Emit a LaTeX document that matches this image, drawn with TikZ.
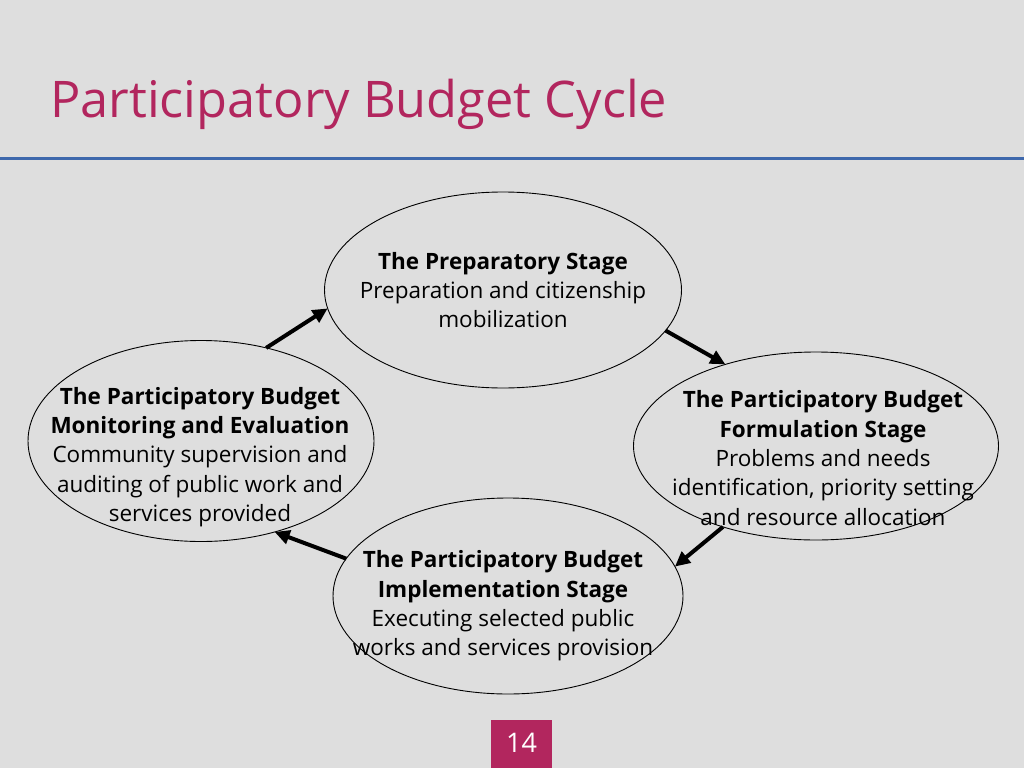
\documentclass[tikz,border=0pt]{standalone}
\usepackage{fontspec}
\setmainfont{Open Sans}[BoldFont={Open Sans Bold}]
\usetikzlibrary{shapes.geometric, arrows.meta}

\definecolor{slidebg}{RGB}{222,222,222}
\definecolor{titlered}{RGB}{178,38,94}
\definecolor{ruleblue}{RGB}{62,104,172}

\tikzset{
  stage/.style={ellipse, draw=black, line width=0.9pt, outer sep=0pt, inner sep=0pt},
  stagetext/.style={align=center, font=\fontsize{22.5}{29.3}\selectfont},
  cycle arrow/.style={line width=4pt, -{Triangle[length=15pt, width=14pt]}}
}

\begin{document}
\begin{tikzpicture}[x=1pt, y=-1pt]
  \useasboundingbox[fill=slidebg] (0, 0) rectangle (1024, 768);

  \node[anchor=base west, text=titlered, font=\fontsize{50.5}{56}\selectfont, inner sep=0pt] (title) at (50, 117) {Participatory Budget Cycle};
  \draw[ruleblue, line width=3pt] (0, 158) -- (1024, 158);

  \node[stage, minimum width=357pt, minimum height=196pt] (prep) at (503, 290) {};
  \node[stage, minimum width=365pt, minimum height=188pt] (form) at (816, 446) {};
  \node[stage, minimum width=350pt, minimum height=196pt] (impl) at (508, 596) {};
  \node[stage, minimum width=346pt, minimum height=201pt] (mon) at (201, 441) {};

  \node[stagetext] (prep text) at (503, 290) {\textbf{The Preparatory Stage}\\Preparation and citizenship\\mobilization};
  \node[stagetext] (form text) at (823, 458) {\textbf{The Participatory Budget}\\\textbf{Formulation Stage}\\Problems and needs\\identification, priority setting\\and resource allocation};
  \node[stagetext] (impl text) at (503, 606) {\textbf{The Participatory Budget}\\\textbf{Implementation Stage}\\Executing selected public\\works and services provision};
  \node[stagetext] (mon text) at (200, 457) {\textbf{The Participatory Budget}\\\textbf{Monitoring and Evaluation}\\Community supervision and\\auditing of public work and\\services provided};

  \draw[cycle arrow] (prep.-14) -- (form.138);
  \draw[cycle arrow] (form.221) -- (impl.10);
  \draw[cycle arrow] (impl.167) -- (mon.-51);
  \draw[cycle arrow] (mon.55) -- (prep.186);

  \fill[titlered] (491, 720) rectangle (552, 768);
  \node[text=white, font=\fontsize{27}{32}\selectfont] (page) at (521.5, 743) {14};
\end{tikzpicture}
\end{document}
